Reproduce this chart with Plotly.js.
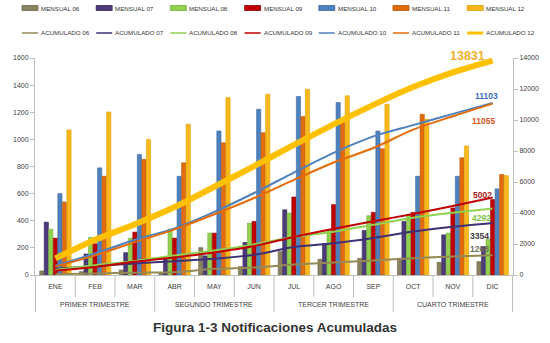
<!DOCTYPE html>
<html><head><meta charset="utf-8">
<script src="https://cdn.plot.ly/plotly-3.0.1.min.js"></script>
<style>html,body{margin:0;padding:0;background:#fff}#chart{width:550px;height:343px}</style>
</head><body><div id="chart"></div>
<script>
const months = ['ENE','FEB','MAR','ABR','MAY','JUN','JUL','AGO','SEP','OCT','NOV','DIC'];
const quarters = ['PRIMER TRIMESTRE','SEGUNDO TRIMESTRE','TERCER TRIMESTRE','CUARTO TRIMESTRE'];
const years = ['06','07','08','09','10','11','12'];

const mensual06 = [30, 25, 37, 17, 202, 62, 173, 116, 123, 123, 94, 99];
const mensual07 = [390, 155, 165, 123, 141, 240, 481, 230, 328, 395, 296, 210];
const mensual08 = [338, 277, 272, 338, 309, 383, 457, 333, 437, 444, 309, 264];
const mensual09 = [272, 230, 316, 272, 309, 395, 575, 519, 462, 462, 494, 556];
const mensual10 = [600, 790, 889, 728, 1062, 1222, 1316, 1272, 1062, 728, 728, 635];
const mensual11 = [538, 728, 852, 827, 975, 1049, 1168, 1123, 931, 1185, 864, 741];
const mensual12 = [1070, 1202, 1000, 1111, 1309, 1333, 1370, 1321, 1259, 1148, 951, 733];

const acumulado06 = [50, 100, 150, 180, 400, 480, 670, 800, 940, 1080, 1190, 1268];
const acumulado07 = [400, 570, 750, 890, 1045, 1300, 1800, 2045, 2390, 2800, 3110, 3354];
const acumulado08 = [345, 630, 910, 1260, 1580, 1975, 2445, 2790, 3240, 3700, 4020, 4292];
const acumulado09 = [280, 520, 850, 1135, 1455, 1865, 2455, 2990, 3465, 3940, 4450, 5002];
const acumulado10 = [600, 1390, 2279, 3007, 4069, 5291, 6607, 7879, 8941, 9669, 10397, 11103];
const acumulado11 = [538, 1266, 2118, 2945, 3920, 4969, 6137, 7260, 8191, 9376, 10240, 11055];
const acumulado12 = [1070, 2272, 3272, 4383, 5692, 7025, 8395, 9716, 10975, 12123, 13074, 13831];

const mensual = [mensual06, mensual07, mensual08, mensual09, mensual10, mensual11, mensual12];
const acumulado = [acumulado06, acumulado07, acumulado08, acumulado09, acumulado10, acumulado11, acumulado12];

const barColors = ['#8a8160', '#4b3b78', '#92d050', '#c00000', '#4f81bd', '#e36c0a', '#f9b81b'];
const barLines  = ['#6e6647', '#362a5a', '#76b03a', '#8e0000', '#3a6aa6', '#b85508', '#e0a000'];
const lineColors = ['#948a54', '#3f3175', '#92d050', '#c00000', '#4f81bd', '#e36c0a', '#ffc000'];
const lineWidths = [2, 2, 2, 2, 2, 2, 6];

const W = 550, H = 343;
const PL = 35, PR = 513, PT = 58, PB = 275;
const px = x => (x - PL) / (PR - PL);
const py = y => (PB - y) / (PB - PT);
const FONT = 'Liberation Sans, Arial, sans-serif';

const traces = [];
years.forEach((yr, i) => {
  traces.push({
    type: 'bar', name: 'MENSUAL ' + yr, x: months, y: mensual[i],
    marker: {color: barColors[i], line: {color: barLines[i], width: 0.6}},
    yaxis: 'y', showlegend: false
  });
});
years.forEach((yr, i) => {
  traces.push({
    type: 'scatter', mode: 'lines', name: 'ACUMULADO ' + yr, x: months, y: acumulado[i],
    line: {color: lineColors[i], width: lineWidths[i], shape: 'spline', smoothing: 0.8},
    yaxis: 'y2', showlegend: false
  });
});

const finalLabels = [
  {txt: '13831', col: '#f4ae2e', x: 467, y: 56, size: 12.5},
  {txt: '11103', col: '#3b6fc0', x: 486, y: 96, size: 8.5},
  {txt: '11055', col: '#d9541e', x: 483, y: 121, size: 8.5},
  {txt: '5002', col: '#b01818', x: 482, y: 195, size: 8.5},
  {txt: '4292', col: '#7cc23f', x: 481, y: 218, size: 8.5},
  {txt: '3354', col: '#404040', x: 479, y: 236, size: 8.5},
  {txt: '1268', col: '#707060', x: 479, y: 249, size: 8.5}
];
const annotations = finalLabels.map(l => ({
  text: '<b>' + l.txt + '</b>', xref: 'paper', yref: 'paper',
  x: px(l.x), y: py(l.y), xanchor: 'center', yanchor: 'middle', showarrow: false,
  font: {family: FONT, size: l.size, color: l.col}
}));

// legend (two rows of seven, drawn as swatches + text)
const shapes = [];
const STEP = 74.2;
const legFont = {family: FONT, size: 6.2, color: '#333'};
years.forEach((yr, i) => {
  const x0 = 22 + STEP * i;
  shapes.push({type: 'rect', xref: 'paper', yref: 'paper',
    x0: px(x0), x1: px(x0 + 16), y0: py(10.5), y1: py(5.5),
    fillcolor: barColors[i], line: {color: barLines[i], width: 0.8}});
  annotations.push({text: 'MENSUAL ' + yr, xref: 'paper', yref: 'paper',
    x: px(x0 + 17), y: py(8), xanchor: 'left', yanchor: 'middle', showarrow: false,
    font: legFont});
  shapes.push({type: 'line', xref: 'paper', yref: 'paper',
    x0: px(x0), x1: px(x0 + 16), y0: py(33), y1: py(33),
    line: {color: lineColors[i], width: i === 6 ? 3 : 1.5}});
  annotations.push({text: 'ACUMULADO ' + yr, xref: 'paper', yref: 'paper',
    x: px(x0 + 17), y: py(33), xanchor: 'left', yanchor: 'middle', showarrow: false,
    font: legFont});
});

// category dividers under the x axis (month boundaries short, quarter boundaries long)
for (let k = 0; k <= months.length; k++) {
  const isQuarter = k % 3 === 0;
  shapes.push({type: 'line', xref: 'x', yref: 'paper',
    x0: k - 0.5, x1: k - 0.5, y0: 0, y1: py(isQuarter ? 312 : 297),
    line: {color: '#bfbfbf', width: 1}});
}
quarters.forEach((q, j) => {
  annotations.push({text: q, xref: 'x', yref: 'paper', x: j * 3 + 1, y: py(304),
    xanchor: 'center', yanchor: 'middle', showarrow: false,
    font: {family: FONT, size: 7, color: '#404040'}});
});

const tickFont = {family: FONT, size: 7, color: '#404040'};
const layout = {
  width: W, height: H,
  margin: {l: PL, r: W - PR, t: PT, b: H - PB},
  paper_bgcolor: '#fff', plot_bgcolor: '#fff',
  showlegend: false,
  barmode: 'group', bargap: 0.2, bargroupgap: 0.08,
  title: {
    text: '<b>Figura 1-3 Notificaciones Acumuladas</b>',
    x: 0.5, xanchor: 'center', xref: 'container',
    y: (H - 327) / H, yanchor: 'middle', yref: 'container',
    font: {family: FONT, size: 13.5, color: '#333'}
  },
  xaxis: {
    type: 'category', showline: true, linecolor: '#bfbfbf', linewidth: 1,
    ticks: '', showgrid: false, tickfont: tickFont, ticklabelstandoff: 5
  },
  yaxis: {
    range: [0, 1600], dtick: 200, showgrid: false, zeroline: false,
    showline: true, linecolor: '#bfbfbf', ticks: 'outside', ticklen: 4, tickcolor: '#bfbfbf',
    tickfont: tickFont
  },
  yaxis2: {
    range: [0, 14000], dtick: 2000, tickformat: 'd', overlaying: 'y', side: 'right',
    showgrid: false, zeroline: false,
    showline: true, linecolor: '#bfbfbf', ticks: 'outside', ticklen: 4, tickcolor: '#bfbfbf',
    tickfont: tickFont
  },
  shapes: shapes,
  annotations: annotations
};
Plotly.newPlot('chart', traces, layout, {displayModeBar: false, staticPlot: true});
</script></body></html>
